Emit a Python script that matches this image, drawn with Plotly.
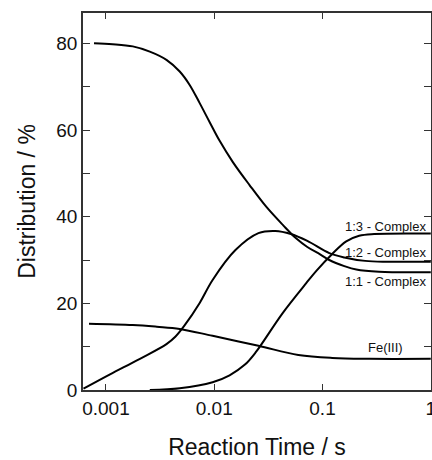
import plotly.graph_objects as go

# Species distribution vs. reaction time (log time axis)
t_11 = [0.000776, 0.00115, 0.00177, 0.00254, 0.00362, 0.00480, 0.00593, 0.00734,
        0.00908, 0.01122, 0.01486, 0.02118, 0.0302, 0.0430, 0.0570, 0.0724,
        0.0950, 0.1156, 0.159, 0.205, 0.333, 1.0]
y_11 = [80.0, 79.8, 79.3, 78.1, 76.2, 73.5, 70.4, 66.2,
        61.8, 57.5, 52.6, 47.3, 42.3, 38.1, 35.0, 33.0,
        31.3, 30.0, 28.6, 27.8, 27.3, 27.2]

t_12 = [0.00062, 0.00109, 0.00206, 0.00362, 0.00437, 0.00528, 0.00734, 0.00966,
        0.0157, 0.0256, 0.0367, 0.0510, 0.0724, 0.1156, 0.159, 0.248, 0.40, 1.0]
y_12 = [0.3, 3.6, 7.2, 10.6, 12.3, 14.8, 20.1, 25.4,
        32.3, 36.2, 36.7, 36.0, 34.4, 31.6, 30.6, 29.8, 29.6, 29.6]

t_13 = [0.00254, 0.0048, 0.00966, 0.01386, 0.0191, 0.0240, 0.0427, 0.0710,
        0.0877, 0.123, 0.1656, 0.218, 0.300, 1.0]
y_13 = [0.0, 0.4, 1.8, 3.4, 5.8, 8.6, 17.7, 24.7,
        27.5, 31.4, 34.3, 35.6, 36.0, 36.1]

t_fe = [0.000697, 0.00177, 0.00295, 0.0048, 0.00966, 0.0256, 0.0598, 0.123, 0.270, 1.0]
y_fe = [15.3, 15.0, 14.6, 14.1, 12.5, 10.2, 8.1, 7.4, 7.2, 7.2]

series = [
    ("1:1 - Complex", t_11, y_11),
    ("1:2 - Complex", t_12, y_12),
    ("1:3 - Complex", t_13, y_13),
    ("Fe(III)", t_fe, y_fe),
]

x_tickvals = [0.001, 0.01, 0.1, 1]
x_ticktext = ["0.001", "0.01", "0.1", "1"]
y_tickvals = [0, 10, 20, 30, 40, 50, 60, 70, 80]
y_ticktext = ["0", "", "20", "", "40", "", "60", "", "80"]

# Curve labels: (text, y position, x in paper units, right-aligned)
labels = [
    ("1:3 - Complex", 37.8, 0.991),
    ("1:2 - Complex", 31.7, 0.991),
    ("1:1 - Complex", 25.0, 0.991),
    ("Fe(III)", 9.7, 0.925),
]

FONT = "Liberation Sans, Arial, Helvetica, sans-serif"

fig = go.Figure()
for name, t, y in series:
    fig.add_trace(go.Scatter(
        x=t, y=y, mode="lines", name=name,
        line=dict(color="black", width=2, shape="spline", smoothing=1.0),
        showlegend=False, hoverinfo="skip",
    ))

for text, yv, xp in labels:
    fig.add_annotation(
        text=text, x=xp, y=yv, xref="paper", yref="y",
        xanchor="right", yanchor="middle", showarrow=False,
        font=dict(family=FONT, size=13, color="#111"),
    )

axis_common = dict(
    showline=True, linecolor="#333", linewidth=1.5, mirror="ticks",
    ticks="inside", tickcolor="#333", tickwidth=1.2,
    showgrid=False, zeroline=False, ticklabeloverflow="allow", automargin=False,
    tickfont=dict(family=FONT, size=19, color="#111"),
)

fig.update_xaxes(
    type="log", range=[-3.212, 0.002],
    tickvals=x_tickvals, ticktext=x_ticktext, ticklen=6,
    title=dict(text="Reaction Time / s", font=dict(family=FONT, size=23, color="#111"), standoff=27),
    **axis_common,
)
fig.update_yaxes(
    range=[0, 87],
    tickvals=y_tickvals, ticktext=y_ticktext, ticklen=7,
    title=dict(text="Distribution / %", font=dict(family=FONT, size=23, color="#111"), standoff=14),
    **axis_common,
)

fig.update_layout(
    width=432, height=460,
    margin=dict(l=83, r=1, t=13, b=70),
    paper_bgcolor="white", plot_bgcolor="white",
)

fig.write_html("out.html")
